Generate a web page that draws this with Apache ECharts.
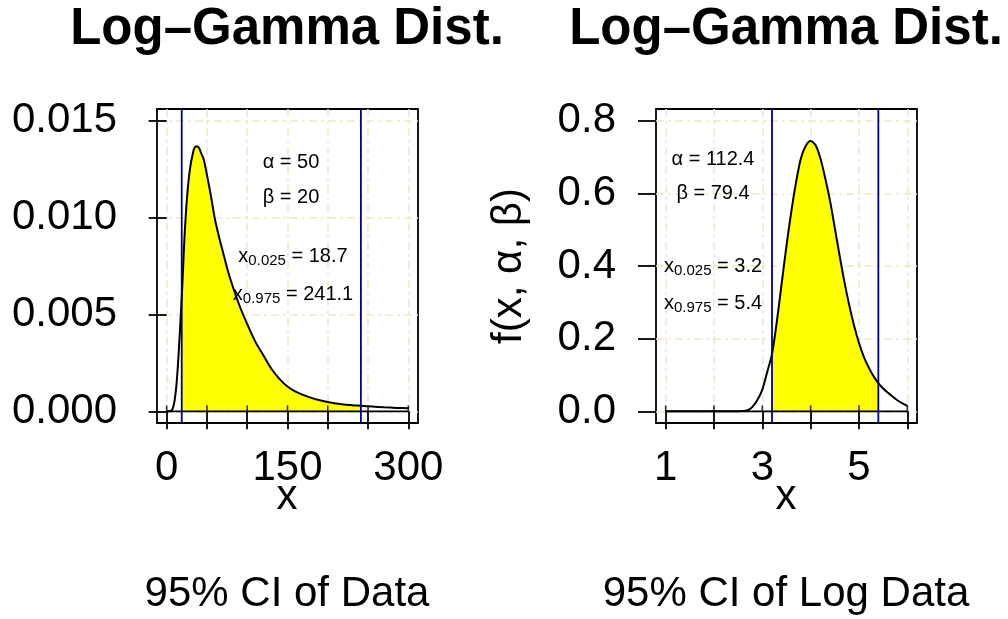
<!DOCTYPE html>
<html>
<head>
<meta charset="utf-8">
<script src="https://cdn.jsdelivr.net/npm/echarts@6/dist/echarts.min.js"></script>
<style>
  html, body { margin: 0; padding: 0; background: #ffffff; }
  #chart { width: 1008px; height: 619px; }
</style>
</head>
<body>
<div id="chart"></div>
<script>
// Density of the data (left panel): x values and f(x)
const dataX = [0, 4, 6, 8, 10, 12, 14, 16, 18.7, 20, 22, 24, 26, 28, 30, 32, 34, 37, 40, 43, 46, 50, 55, 60, 65, 70, 75, 80, 90, 100, 110, 120, 130, 140, 150, 160, 175, 190, 210, 230, 241.1, 255, 270, 285, 300];
const dataY = [0, 0, 0.00005, 0.0002, 0.0006, 0.0013, 0.0024, 0.0038, 0.0059, 0.0070, 0.0089, 0.0103, 0.0114, 0.0122, 0.0128, 0.0132, 0.01355, 0.01368, 0.0136, 0.0133, 0.0130, 0.0122, 0.0111, 0.0099, 0.0090, 0.0082, 0.0074, 0.0067, 0.0055, 0.0045, 0.0036, 0.0029, 0.0022, 0.00168, 0.00128, 0.00102, 0.00076, 0.00057, 0.00041, 0.00032, 0.00029, 0.00025, 0.00021, 0.00018, 0.00016];
const dataParams = [50, 20];          // alpha, beta
const dataCI = [18.7, 241.1];         // 2.5% and 97.5% quantiles

// Density of the log data (right panel)
const logX = [1, 2, 2.4, 2.6, 2.7, 2.8, 2.9, 3.0, 3.1, 3.2, 3.3, 3.4, 3.5, 3.6, 3.7, 3.8, 3.9, 4.0, 4.1, 4.2, 4.3, 4.4, 4.5, 4.6, 4.7, 4.8, 4.9, 5.0, 5.1, 5.2, 5.3, 5.4, 5.5, 5.6, 5.7, 5.8, 5.9, 6.0];
const logY = [0, 0, 0, 0.001, 0.003, 0.013, 0.032, 0.060, 0.108, 0.158, 0.247, 0.352, 0.456, 0.550, 0.632, 0.697, 0.731, 0.744, 0.733, 0.697, 0.642, 0.580, 0.504, 0.428, 0.355, 0.291, 0.235, 0.188, 0.150, 0.121, 0.097, 0.078, 0.063, 0.051, 0.040, 0.030, 0.022, 0.015];
const logParams = [112.4, 79.4];
const logCI = [3.2, 5.4];

// Axis ticks and labels
const dataXTicks = [0, 50, 100, 150, 200, 250, 300];
const dataXLabels = [0, 150, 300];
const dataYTicks = [0, 0.005, 0.010, 0.015];
const logXTicks = [1, 2, 3, 4, 5, 6];
const logXLabels = [1, 3, 5];
const logYTicks = [0, 0.2, 0.4, 0.6, 0.8];

// Plot limits (data range padded by 4% on each side)
const dataXLim = [-12, 312];
const dataYLim = [-0.0006, 0.0156];
const logXLim = [0.8, 6.2];
const logYLim = [-0.032, 0.832];

const FONT = "'Liberation Sans', Arial, Helvetica, sans-serif";
const GRID_COLOR = '#EEE8CD';
const CI_COLOR = '#00008B';
const FILL_COLOR = '#FFFF00';

function pairs(xs, ys) { return xs.map((x, i) => [x, ys[i]]); }
function between(xs, ys, lo, hi) { return pairs(xs, ys).filter(p => p[0] >= lo && p[0] <= hi); }

function xAxisCfg(gi, lim, ticks, labels) {
  return {
    type: 'value', gridIndex: gi, min: lim[0], max: lim[1],
    axisLine: { show: false },
    axisTick: { show: true, inside: false, length: 18, customValues: ticks, lineStyle: { color: '#000', width: 1.8 } },
    axisLabel: { customValues: labels, margin: 24, fontSize: 42, color: '#000', fontFamily: FONT, hideOverlap: false },
    splitLine: { show: true, lineStyle: { color: GRID_COLOR, width: 1.5, type: [8, 4, 3, 4] } }
  };
}
function yAxisCfg(gi, lim, ticks, digits) {
  return {
    type: 'value', gridIndex: gi, min: lim[0], max: lim[1],
    axisLine: { show: false },
    axisTick: { show: true, inside: false, length: 18, customValues: ticks, lineStyle: { color: '#000', width: 1.8 } },
    axisLabel: { customValues: ticks, margin: 40, fontSize: 42, color: '#000', fontFamily: FONT, hideOverlap: false,
                 formatter: v => Number(v).toFixed(digits) },
    splitLine: { show: true, lineStyle: { color: GRID_COLOR, width: 1.5, type: [8, 4, 3, 4] } }
  };
}

function panelSeries(gi, xs, ys, ci, xTicks, yLim) {
  const common = { xAxisIndex: gi, yAxisIndex: gi, showSymbol: false, silent: true, animation: false };
  return [
    Object.assign({ type: 'line', z: 2, data: between(xs, ys, ci[0], ci[1]), smooth: 0.3,
      lineStyle: { width: 0 }, areaStyle: { color: FILL_COLOR, opacity: 1, origin: 'auto' } }, common),
    Object.assign({ type: 'line', z: 3, data: [[xs[0], 0], [xs[xs.length - 1], 0]],
      lineStyle: { color: '#000', width: 1.8 } }, common),
    Object.assign({ type: 'scatter', z: 3, data: xTicks.map(t => [t, 0]), symbol: 'rect', symbolSize: [1.6, 6], symbolOffset: [0, -3],
      itemStyle: { color: '#000' } }, common),
    Object.assign({ type: 'line', z: 4, data: pairs(xs, ys), smooth: 0.3,
      lineStyle: { color: '#000', width: 2 } }, common),
    Object.assign({ type: 'line', z: 5, data: [[ci[0], yLim[0]], [ci[0], yLim[1]]], lineStyle: { color: CI_COLOR, width: 1.8 } }, common),
    Object.assign({ type: 'line', z: 5, data: [[ci[1], yLim[0]], [ci[1], yLim[1]]], lineStyle: { color: CI_COLOR, width: 1.8 } }, common)
  ];
}

const RICH = {
  m: { fontSize: 20, fontFamily: FONT, fill: '#000', lineHeight: 24, verticalAlign: 'middle' },
  s: { fontSize: 15, fontFamily: FONT, fill: '#000', lineHeight: 14, verticalAlign: 'bottom' }
};
function note(x, y, text) {
  return { type: 'text', x: x, y: y, z: 50, silent: true,
    style: { text: text, rich: RICH, fill: '#000', font: '20px ' + FONT, align: 'center', verticalAlign: 'middle' } };
}
function plain(x, y, text, font, rot) {
  return { type: 'text', x: x, y: y, z: 50, silent: true, rotation: rot || 0,
    style: { text: text, fill: '#000', font: font, align: 'center', verticalAlign: 'middle' } };
}

const chart = echarts.init(document.getElementById('chart'), null, { renderer: 'canvas' });
const TITLE_FONT = 'bold 51px ' + FONT;
const BIG_FONT = '42px ' + FONT;

chart.setOption({
  animation: false,
  backgroundColor: '#ffffff',
  grid: [
    { left: 157, top: 109, width: 261, height: 314, show: true, borderColor: '#000', borderWidth: 1.8, backgroundColor: '#fff', containLabel: false, outerBoundsMode: 'none' },
    { left: 656, top: 109, width: 261, height: 314, show: true, borderColor: '#000', borderWidth: 1.8, backgroundColor: '#fff', containLabel: false, outerBoundsMode: 'none' }
  ],
  xAxis: [xAxisCfg(0, dataXLim, dataXTicks, dataXLabels), xAxisCfg(1, logXLim, logXTicks, logXLabels)],
  yAxis: [yAxisCfg(0, dataYLim, dataYTicks, 3), yAxisCfg(1, logYLim, logYTicks, 1)],
  series: [].concat(
    panelSeries(0, dataX, dataY, dataCI, dataXTicks, dataYLim),
    panelSeries(1, logX, logY, logCI, logXTicks, logYLim)
  ),
  graphic: [
    plain(287, 30, 'Log\u2013Gamma Dist.', TITLE_FONT),
    plain(786, 30, 'Log\u2013Gamma Dist.', TITLE_FONT),
    plain(287, 497, 'x', BIG_FONT),
    plain(786, 497, 'x', BIG_FONT),
    plain(509, 266, 'f(x, \u03b1, \u03b2)', BIG_FONT, Math.PI / 2),
    plain(287, 594, '95% CI of Data', BIG_FONT),
    plain(786, 594, '95% CI of Log Data', BIG_FONT),
    note(291, 162, '{m|\u03b1 = ' + dataParams[0] + '}'),
    note(291, 197, '{m|\u03b2 = ' + dataParams[1] + '}'),
    note(293, 256, '{m|x}{s|0.025}{m| = ' + dataCI[0].toFixed(1) + '}'),
    note(293, 294, '{m|x}{s|0.975}{m| = ' + dataCI[1].toFixed(1) + '}'),
    note(713, 159, '{m|\u03b1 = ' + logParams[0].toFixed(1) + '}'),
    note(713, 193, '{m|\u03b2 = ' + logParams[1].toFixed(1) + '}'),
    note(713, 266, '{m|x}{s|0.025}{m| = ' + logCI[0].toFixed(1) + '}'),
    note(713, 303, '{m|x}{s|0.975}{m| = ' + logCI[1].toFixed(1) + '}')
  ]
});
</script>
</body>
</html>
